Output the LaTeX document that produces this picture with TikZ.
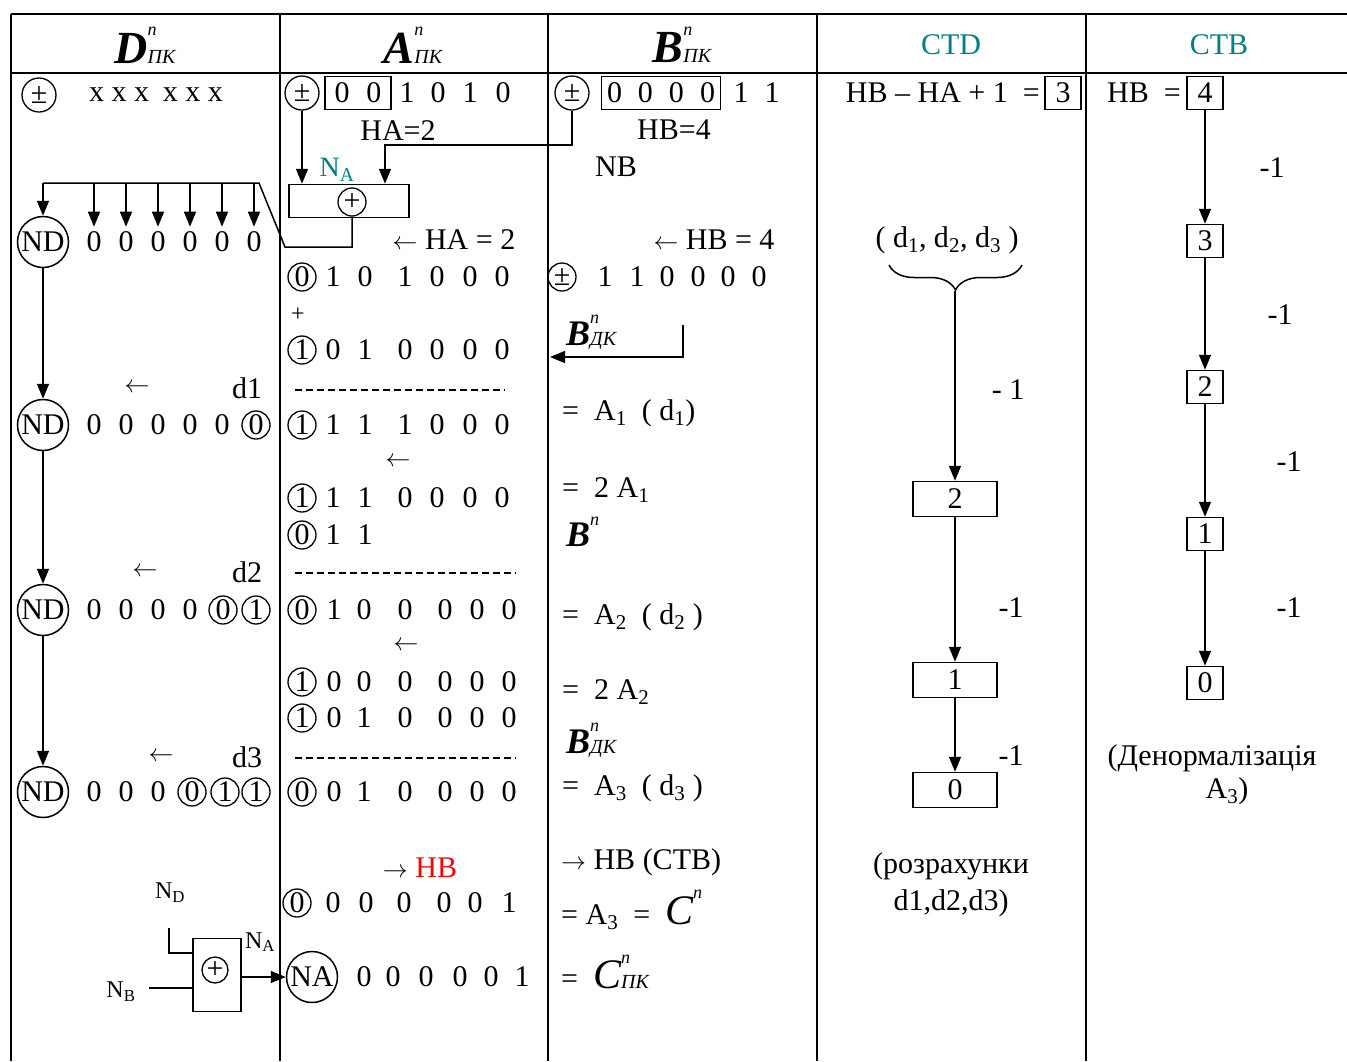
\documentclass[tikz,border=0pt]{standalone}
\usepackage{fontspec}
\setmainfont{Liberation Serif}
\usetikzlibrary{arrows.meta}
\usetikzlibrary{decorations.pathreplacing}
\definecolor{myteal}{RGB}{0,128,128}
\definecolor{myred}{RGB}{255,0,0}
\newcommand{\Reg}[3]{{\fontsize{#1}{#1}\selectfont\bfseries\itshape #2\rlap{\raisebox{0.6em}{\fontsize{18}{18}\selectfont\mdseries n}}{\fontsize{20}{20}\selectfont\mdseries #3}}}

\begin{document}
\begin{tikzpicture}[x=1pt,y=-1pt,
  font=\fontsize{30}{34}\selectfont,
  every node/.style={inner sep=0pt},
  tabline/.style={line width=2.4pt},
  ln/.style={line width=1.5pt},
  arr/.style={line width=1.5pt,-{Triangle[length=15pt,width=12pt]}},
  cbit/.style={draw,circle,line width=1.3pt,minimum size=28pt},
  sgn/.style={draw,circle,line width=1.3pt,minimum size=34pt},
  ring/.style={draw,circle,line width=1.5pt,minimum size=51pt},
  reg/.style={draw,line width=1.5pt,minimum height=33pt},
  cnt/.style={draw,line width=1.5pt,minimum width=36pt,minimum height=33pt},
  wide/.style={cnt,minimum width=84pt,minimum height=35pt},
  dashline/.style={line width=1.2pt,dash pattern=on 7pt off 4pt},
  small/.style={font=\fontsize{24}{26}\selectfont}]
\useasboundingbox (0,0) rectangle (1347,1061);

\draw[tabline] (11,14) -- (1347,14) (11,73) -- (1347,73);
\foreach \x in {11,280,548,817,1086} \draw[tabline] (\x,14) -- (\x,1061);

\node (hD) at (145,45) {\Reg{46}{D}{ПК}};
\node (hA) at (413,45) {\Reg{46}{A}{ПК}};
\node (hB) at (682,45) {\Reg{46}{B}{ПК}};
\node[text=myteal] (hCTD) at (951,45) {CTD};
\node[text=myteal] (hCTB) at (1219,45) {CTB};

% D
\node[sgn] (sD) at (39,95) {±};
\node (xD) at (156,95) {x x x\hspace{14pt}x x x};
\foreach \n/\y in {1/242,2/425,3/610,4/792} \node[ring] (nd\n) at (43,\y) {ND};
\foreach \a/\b in {1/2,2/3,3/4} \draw[arr] (nd\a) -- (nd\b);
\foreach \x [count=\i] in {94,126,158,190,222,254} \node (dA\i) at (\x,242) {0};
\foreach \x [count=\i] in {94,126,158,190,222} \node (dB\i) at (\x,425) {0};
\node[cbit] (dB6) at (256,425) {0};
\foreach \x [count=\i] in {94,126,158,190} \node (dC\i) at (\x,610) {0};
\node[cbit] (dC5) at (223,610) {0};
\node[cbit] (dC6) at (256,610) {1};
\foreach \x [count=\i] in {94,126,158} \node (dD\i) at (\x,792) {0};
\node[cbit] (dD4) at (192,792) {0};
\node[cbit] (dD5) at (225,792) {1};
\node[cbit] (dD6) at (256,792) {1};
\foreach \y/\xa/\d [count=\n] in {388/137/1,572/145/2,757/161/3} {
  \node (shl\n) at (\xa,\y) {$\leftarrow$};
  \node (dl\n) at (247,\y) {d\d};
}

% A
\node[sgn] (sA) at (302,93) {±};
\node[reg,minimum width=66pt] (hiA) at (358,93) {0\hspace{17pt}0};
\foreach \x/\b [count=\i] in {407/1,438/0,470/1,503/0} \node (a0-\i) at (\x,93) {\b};
\node (ha) at (398,131) {HA=2};
\node[text=myteal,font=\fontsize{28}{30}\selectfont] (na) at (337,170) {N\textsubscript{A}};
\node[reg,minimum width=120pt] (sumA) at (349,201) {};
\node[draw,circle,line width=1.3pt,minimum size=28pt] (xorA) at (352,202) {+};
\draw[arr] (sA) -- (sA |- sumA.north);
\node (sha) at (454,240) {$\leftarrow$\ HA = 2};
\coordinate (fb) at (285,247);
\coordinate (fa) at (259,183);
\coordinate (fl) at (43,183);
\draw[ln] (xorA.south) |- (fb) -- (fa) -- (fl);
\draw[arr] (fl) -- (nd1);
\foreach \i in {1,...,6} \draw[arr] (dA\i |- fl) -- ([yshift=5pt]dA\i.north);
\foreach \y/\c/\row [count=\r] in {
  277/0/{333/1,365/0,405/1,437/0,470/0,502/0},
  350/1/{333/0,365/1,405/0,437/0,470/0,502/0},
  425/1/{333/1,365/1,405/1,437/0,470/0,502/0},
  498/1/{333/1,365/1,405/0,437/0,470/0,502/0},
  535/0/{333/1,365/1},
  610/0/{334/1,364/0,405/0,445/0,477/0,509/0},
  682/1/{334/0,364/0,405/0,445/0,477/0,509/0},
  718/1/{334/0,364/1,405/0,445/0,477/0,509/0},
  792/0/{334/0,364/1,405/0,445/0,477/0,509/0}} {
  \node[cbit] (ac\r) at (302,\y) {\c};
  \foreach \x/\b [count=\i] in \row \node (a\r-\i) at (\x,\y) {\b};
}
\node[small] (plus) at (298,315) {+};
\draw[dashline] (295,390) -- (505,390);
\draw[dashline] (295,573) -- (516,573);
\draw[dashline] (295,758) -- (516,758);
\node (shA1) at (398,462) {$\leftarrow$};
\node (shA2) at (406,646) {$\leftarrow$};
\node (toHB) at (420,868) {$\rightarrow$\ \textcolor{myred}{HB}};
\node[cbit] (acr) at (297,903) {0};
\foreach \x/\b [count=\i] in {333/0,366/0,404/0,444/0,475/0,509/1} \node (ar-\i) at (\x,903) {\b};
\node[ring] (naC) at (312,977) {NA};
\foreach \x/\b [count=\i] in {364/0,393/0,426/0,460/0,491/0,522/1} \node (an-\i) at (\x,977) {\b};

% gate
\node[small] (lND) at (170,893) {N\textsubscript{D}};
\node[draw,line width=1.5pt,minimum width=48pt,minimum height=73pt] (gate) at (217,975) {};
\node[draw,circle,line width=1.3pt,minimum size=26pt] (gx) at (215,970) {+};
\node[small] (lNA) at (260,942) {N\textsubscript{A}};
\node[small] (lNB) at (121,992) {N\textsubscript{B}};
\coordinate (ndT) at (169,928);
\coordinate (gi1) at (193,953);
\coordinate (nbE) at (149,988);
\coordinate (gi2) at (193,988);
\draw[ln] (ndT) |- (gi1);
\draw[ln] (nbE) -- (gi2);
\draw[arr] (gate.east |- naC) -- (naC);

% B
\node[sgn] (sB) at (572,93) {±};
\node[reg,minimum width=119pt] (hiB) at (661,93) {0\hspace{16pt}0\hspace{16pt}0\hspace{16pt}0};
\node (b0-1) at (741,93) {1};
\node (b0-2) at (772,93) {1};
\node (hb) at (674,130) {HB=4};
\node (nb) at (616,167) {NB};
\coordinate (inB) at (385,145);
\draw[arr] (sB) |- (inB) -- (inB |- sumA.north);
\node (shb) at (714,240) {$\leftarrow$\ HB = 4};
\node[cbit] (bc) at (562,277) {±};
\foreach \x/\b [count=\i] in {605/1,637/1,667/0,698/0,728/0,759/0} \node (b1-\i) at (\x,277) {\b};
\node[anchor=west] (bdk1) at (566,332) {\Reg{36}{B}{ДК}};
\coordinate (bkT) at (683,325);
\coordinate (bkE) at (550,357);
\draw[arr] (bkT) |- (bkE);
\node[anchor=west] (eq1) at (562,413) {=\ \ A\textsubscript{1}\ \ ( d\textsubscript{1})};
\node[anchor=west] (eq2) at (562,490) {=\ \ 2 A\textsubscript{1}};
\node[anchor=west] (bn) at (566,532) {\Reg{36}{B}{}};
\node[anchor=west] (eq3) at (562,617) {=\ \ A\textsubscript{2}\ \ ( d\textsubscript{2} )};
\node[anchor=west] (eq4) at (562,692) {=\ \ 2 A\textsubscript{2}};
\node[anchor=west] (bdk2) at (566,740) {\Reg{36}{B}{ДК}};
\node[anchor=west] (eq5) at (562,788) {=\ \ A\textsubscript{3}\ \ ( d\textsubscript{3} )};
\node[anchor=west] (eq6) at (561,862) {$\rightarrow$ HB (CTB)};
\node[anchor=west] (eq7) at (561,910) {= A\textsubscript{3}\ \ =\ \ \Reg{42}{\mdseries C}{}};
\node[anchor=west] (eq8) at (561,972) {=\ \ \Reg{42}{\mdseries C}{ПК}};

% CTD
\node[anchor=east] (ctdf) at (1040,93) {HB – HA + 1\ \ =};
\node[cnt] (k3) at (1063,93) {3};
\node (dds) at (947,240) {( d\textsubscript{1}, d\textsubscript{2}, d\textsubscript{3} )};
\draw[ln,decorate,decoration={brace,amplitude=25pt}] (1022,265) -- (889,265);
\coordinate (brT) at (955,291);
\node[wide] (c2) at (955,499) {2};
\node[wide] (c1) at (955,680) {1};
\node[wide] (c0) at (955,790) {0};
\draw[arr] (brT) -- (c2);
\draw[arr] (c2) -- (c1);
\draw[arr] (c1) -- (c0);
\node (m1) at (1008,390) {- 1};
\node (m2) at (1011,608) {-1};
\node (m3) at (1011,756) {-1};
\node (calc1) at (951,866) {(розрахунки};
\node (calc2) at (951,903) {d1,d2,d3)};

% CTB
\node[anchor=east] (ctbf) at (1181,93) {HB\ \ =};
\foreach \n/\y in {4/93,3/241,2/387,1/534,0/683} \node[cnt] (q\n) at (1205,\y) {\n};
\foreach \a/\b in {4/3,3/2,2/1,1/0} \draw[arr] (q\a) -- (q\b);
\foreach \y/\x [count=\i] in {168/1272,315/1280,462/1289,608/1289} \node (s\i) at (\x,\y) {-1};
\node (den1) at (1212,758) {(Денормалізація};
\node (den2) at (1227,791) {A\textsubscript{3})};
\end{tikzpicture}
\end{document}
